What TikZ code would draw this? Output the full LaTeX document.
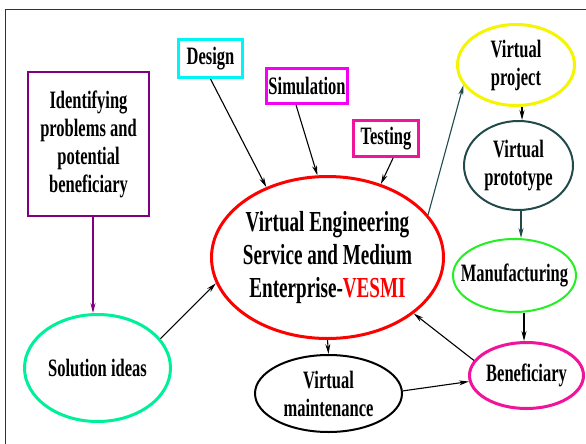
\documentclass[tikz,border=0pt]{standalone}
\usepackage{fontspec}
\setmainfont{Liberation Serif}[FakeStretch=0.66]
\usetikzlibrary{shapes.geometric,arrows.meta}
\definecolor{framegray}{HTML}{333333}
\definecolor{boxcyan}{HTML}{00F5F5}
\definecolor{boxmagenta}{HTML}{F500F5}
\definecolor{deeppink}{HTML}{F0149A}
\definecolor{boxpurple}{HTML}{800080}
\definecolor{springgreen}{HTML}{00F09A}
\definecolor{lime}{HTML}{22F022}
\definecolor{slate}{HTML}{224A4A}
\definecolor{vyellow}{HTML}{F5F500}
\tikzset{
  txt/.style={font=\bfseries\fontsize{25}{28}\selectfont,align=center,inner sep=0pt},
  box/.style={txt,draw,rectangle,line width=3pt},
  oval/.style={txt,draw,ellipse,line width=3pt,inner xsep=-25pt,inner ysep=-12pt},
  link/.style={-{Stealth[length=10pt,width=5pt]},line width=1.1pt},
}
\begin{document}
\begin{tikzpicture}[x=1pt,y=-1pt]
\useasboundingbox (0,0) rectangle (586,444);
\draw[framegray,line width=1pt] (5,444) -- (5,10) -- (586,10);

\node[box,draw=boxcyan,minimum width=64pt,minimum height=38pt] (design) at (210.5,58.5) {Design};
\node[box,draw=boxmagenta,minimum width=81pt,minimum height=35pt] (sim) at (307,86) {Simulation};
\node[box,draw=deeppink,minimum width=65pt,minimum height=36pt] (test) at (386,138.5) {Testing};
\node[box,draw=boxpurple,line width=2pt,minimum width=121pt,minimum height=144pt] (ident) at (88.5,144)
  {Identifying\\problems and\\potential\\beneficiary};
\node[oval,draw=springgreen,minimum width=146pt,minimum height=107pt] (sol) at (97.5,368) {Solution ideas};
\node[oval,draw=red,minimum width=232pt,minimum height=162pt,font=\bfseries\fontsize{29}{33}\selectfont] (vesmi) at (327.5,257.5)
  {Virtual Engineering\\Service and Medium\\Enterprise-\textcolor{red}{VESMI}};
\node[oval,draw=vyellow,minimum width=117pt,minimum height=81pt] (vproj) at (516,65) {Virtual\\project};
\node[oval,draw=slate,line width=2pt,minimum width=109pt,minimum height=89pt] (vproto) at (518.5,165.5) {Virtual\\prototype};
\node[oval,draw=lime,line width=2pt,minimum width=123pt,minimum height=73pt] (manuf) at (514.5,275.5) {Manufacturing};
\node[oval,draw=deeppink,minimum width=114pt,minimum height=66pt] (benef) at (526.5,375.5) {Beneficiary};
\node[oval,draw=black,line width=2pt,minimum width=147pt,minimum height=77pt] (vmaint) at (328.5,393.5) {Virtual\\maintenance};

\draw[link,boxpurple] ([xshift=4.5pt]ident.south) -- ([xshift=-4.5pt]sol.north);
\draw[link] (sol.25) -- (vesmi.193);
\draw[link] (design.south) -- (vesmi.131.6);
\draw[link] (sim.240) -- (vesmi.97.3);
\draw[link] (test.290) -- (vesmi.54.5);
\draw[link,slate] (vesmi.23.9) -- (vproj.201.4);
\draw[link] ([xshift=6pt]vproj.south) -- ([xshift=3.5pt]vproto.north);
\draw[link,slate] ([xshift=2.5pt]vproto.south) -- ([xshift=6.5pt]manuf.north);
\draw[link] ([xshift=9.5pt]manuf.south) -- ([xshift=-2.5pt]benef.north);
\draw[link] (benef.164.8) -- (vesmi.327);
\draw[link] (vesmi.south) -- (vmaint.north);
\draw[link] (vmaint.2) -- (benef.186);
\end{tikzpicture}
\end{document}
